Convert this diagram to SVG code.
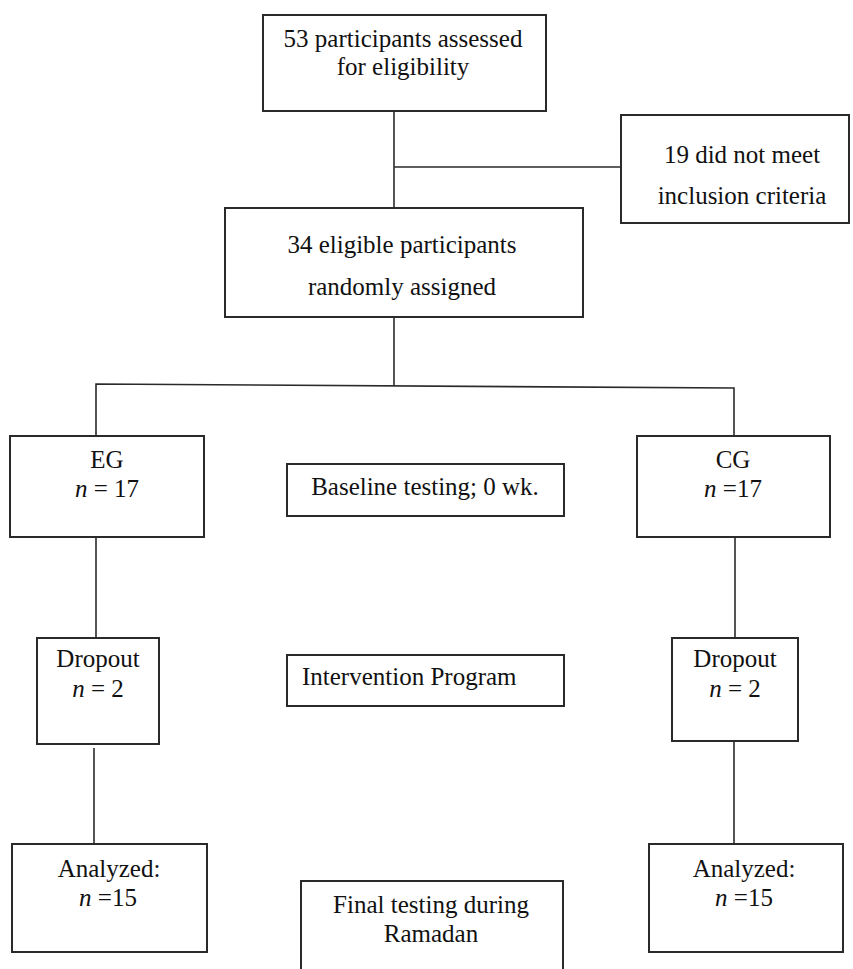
<svg xmlns="http://www.w3.org/2000/svg" width="853" height="969" viewBox="0 0 853 969">
<style>
.box{fill:#fff;stroke:#2a2a2a;stroke-width:2}
.ln{fill:none;stroke:#2a2a2a;stroke-width:1.6}
.t{font-family:'Liberation Serif','Times New Roman','DejaVu Serif','Noto Serif',serif;font-size:25px;fill:#111;text-anchor:middle}
.it{font-style:italic}
</style>
<rect width="853" height="969" fill="#fff"/>
<g id="connectors">
<line class="ln" x1="394" y1="111" x2="394" y2="208"/>
<line class="ln" x1="394" y1="167" x2="621" y2="167"/>
<line class="ln" x1="394" y1="317" x2="394" y2="386"/>
<polyline class="ln" points="96,436 96,384 734,388 734,436"/>
<line class="ln" x1="96" y1="537" x2="96" y2="638"/>
<line class="ln" x1="94" y1="748" x2="94" y2="844"/>
<line class="ln" x1="735" y1="537" x2="735" y2="638"/>
<line class="ln" x1="734" y1="741" x2="734" y2="844"/>
</g>
<g class="t" font-family="Liberation Serif, DejaVu Serif, serif">
<g id="n1"><rect class="box" x="263" y="15" width="283" height="96"/>
<text x="403" y="47">53 participants assessed</text><text x="403" y="75">for eligibility</text></g>
<g id="n2"><rect class="box" x="621" y="115" width="228" height="108"/>
<text x="742" y="163">19 did not meet</text><text x="742" y="204">inclusion criteria</text></g>
<g id="n3"><rect class="box" x="225" y="208" width="358" height="109"/>
<text x="402" y="253">34 eligible participants</text><text x="402" y="295">randomly assigned</text></g>
<g id="n4"><rect class="box" x="10" y="436" width="194" height="101"/>
<text x="107" y="468">EG</text><text x="107" y="497"><tspan class="it">n</tspan> = 17</text></g>
<g id="n5"><rect class="box" x="287" y="464" width="277" height="52"/>
<text x="425" y="495">Baseline testing; 0 wk.</text></g>
<g id="n6"><rect class="box" x="637" y="436" width="193" height="101"/>
<text x="733" y="468">CG</text><text x="733" y="497"><tspan class="it">n</tspan> =17</text></g>
<g id="n7"><rect class="box" x="37" y="638" width="122" height="106"/>
<text x="98" y="667">Dropout</text><text x="98" y="697"><tspan class="it">n</tspan> = 2</text></g>
<g id="n8"><rect class="box" x="287" y="655" width="277" height="51"/>
<text x="302" y="685" style="text-anchor:start">Intervention Program</text></g>
<g id="n9"><rect class="box" x="672" y="638" width="126" height="103"/>
<text x="735" y="667">Dropout</text><text x="735" y="697"><tspan class="it">n</tspan> = 2</text></g>
<g id="n10"><rect class="box" x="12" y="844" width="195" height="108"/>
<text x="109" y="877">Analyzed:</text><text x="108" y="906"><tspan class="it">n</tspan> =15</text></g>
<g id="n11"><rect class="box" x="301" y="881" width="262" height="120"/>
<text x="431" y="913">Final testing during</text><text x="431" y="942">Ramadan</text></g>
<g id="n12"><rect class="box" x="649" y="844" width="194" height="108"/>
<text x="744" y="877">Analyzed:</text><text x="744" y="906"><tspan class="it">n</tspan> =15</text></g>
</g>
</svg>
